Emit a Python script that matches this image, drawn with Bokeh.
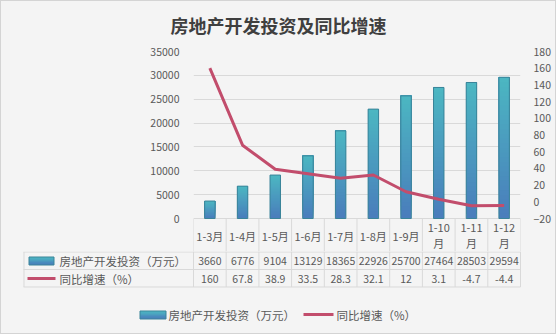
from bokeh.plotting import figure
from bokeh.models import Range1d, LinearAxis, FixedTicker
from bokeh.layouts import column
from bokeh.core.properties import value
from bokeh.embed import file_html
from bokeh.resources import INLINE

# ---------------- data ----------------
categories = ["1-3月", "1-4月", "1-5月", "1-6月", "1-7月", "1-8月", "1-9月", "1-10月", "1-11月", "1-12月"]
investment = [3660, 6776, 9104, 13129, 18365, 22926, 25700, 27464, 28503, 29594]
growth = [160, 67.8, 38.9, 33.5, 28.3, 32.1, 12, 3.1, -4.7, -4.4]
series_names = ["房地产开发投资（万元）", "同比增速（%）"]
title_text = "房地产开发投资及同比增速"
left_ticks = [0, 5000, 10000, 15000, 20000, 25000, 30000, 35000]
right_ticks = [-20, 0, 20, 40, 60, 80, 100, 120, 140, 160, 180]

# ---------------- style / layout ----------------
BG = "#f4f4f4"
GRID = "#d9d9d9"
TXT = "#595959"
LINE_C = "#c24d6c"
BAR_TOP = (76, 182, 194)
BAR_BOT = (74, 126, 188)
BAR_EDGE = "#3a8499"
FONT = "Noto Sans CJK SC"

W = 554                       # inner width (1px page border on each side)
TITLE_H = 39                  # page y 1..40
FR_L, FR_W, FR_T = 192, 327, 11
AXIS_H = 167                  # plotting height of the value axes (page y 51..218)
PAD = 33                      # frame continues below zero over the table header row
MAIN_H = FR_T + AXIS_H + PAD  # page y 40..251
TABLE_H = 82                  # page y 251..333
FR_R = W - FR_L - FR_W
n = len(categories)
unit = FR_W / n
centers = [i + 0.5 for i in range(n)]

l_lo, l_hi = left_ticks[0], left_ticks[-1]
r_lo, r_hi = right_ticks[0], right_ticks[-1]
l_start = l_lo - PAD * (l_hi - l_lo) / AXIS_H
r_start = r_lo - PAD * (r_hi - r_lo) / AXIS_H


def base(fig):
    fig.background_fill_color = BG
    fig.border_fill_color = BG
    fig.outline_line_color = None
    fig.xgrid.visible = False
    fig.ygrid.visible = False
    return fig


txt = dict(text_font=value(FONT), text_color=TXT, text_baseline="middle")

# ---------------- title ----------------
pt = base(figure(width=W, height=TITLE_H, output_backend="svg", toolbar_location=None,
                 x_range=Range1d(1, 555), y_range=Range1d(40, 1),
                 x_axis_location=None, y_axis_location=None,
                 min_border=0, frame_align=False))
pt.text(x=[278], y=[24], text=[title_text], text_font=value(FONT), text_font_size="18px",
        text_font_style="bold", text_color="#3f3f3f", text_align="center",
        text_baseline="middle")

# ---------------- main chart ----------------
p = figure(width=W, height=MAIN_H, output_backend="svg", toolbar_location=None,
           x_range=Range1d(0, n), y_range=Range1d(l_start, l_hi),
           x_axis_location=None, y_axis_location="left",
           min_border_left=FR_L, min_border_right=FR_R, min_border_top=FR_T,
           min_border_bottom=0, frame_align=False)
base(p)
p.extra_y_ranges = {"pct": Range1d(r_start, r_hi), "py": Range1d(251, 51)}

p.ygrid.visible = True
p.ygrid.ticker = FixedTicker(ticks=left_ticks)
p.ygrid.grid_line_color = GRID

ax = p.yaxis[0]
ax.ticker = FixedTicker(ticks=left_ticks)
rax = LinearAxis(y_range_name="pct", ticker=FixedTicker(ticks=right_ticks))
p.add_layout(rax, "right")
for a in (ax, rax):
    a.axis_line_color = None
    a.major_tick_line_color = None
    a.minor_tick_line_color = None
    a.major_label_text_font = FONT
    a.major_label_text_font_size = "10.5px"
    a.major_label_text_color = TXT
ax.major_label_standoff = 8
rax.major_label_standoff = 7

# table header row (category labels) below the zero line
p.segment(x0=list(range(n + 1)), x1=list(range(n + 1)), y0=l_lo, y1=l_start,
          line_color=GRID, line_width=1)
single_x = [x for x, c in zip(centers, categories) if len(c) <= 4]
single = [c for c in categories if len(c) <= 4]
multi_x = [x for x, c in zip(centers, categories) if len(c) > 4]
multi = [c for c in categories if len(c) > 4]
p.text(x=single_x, y=235, text=single, text_font_size="11px", text_align="center",
       y_range_name="py", **txt)
p.text(x=multi_x, y=227.5, text=[c[:-1] for c in multi], text_font_size="11px",
       text_align="center", y_range_name="py", **txt)
p.text(x=multi_x, y=242.5, text=[c[-1] for c in multi], text_font_size="11px",
       text_align="center", y_range_name="py", **txt)

# bars with vertical gradient (overlapping slices, no seams)
N = 30
xs, bots, tops, cols = [], [], [], []
for c, v in zip(centers, investment):
    for k in range(N):
        t = k / (N - 1)
        rgb = tuple(int(BAR_BOT[j] + (BAR_TOP[j] - BAR_BOT[j]) * t) for j in range(3))
        xs.append(c)
        bots.append(v * k / N)
        tops.append(v)
        cols.append("#%02x%02x%02x" % rgb)
p.vbar(x=xs, bottom=bots, top=tops, width=0.32, fill_color=cols, line_color=None)
p.vbar(x=centers, bottom=0, top=investment, width=0.32, fill_color=None,
       line_color=BAR_EDGE, line_width=1)

p.line(x=centers, y=growth, y_range_name="pct", line_color=LINE_C, line_width=3,
       line_join="round")

# ---------------- data table rows + legend ----------------
tb = base(figure(width=W, height=TABLE_H, output_backend="svg", toolbar_location=None,
                 x_range=Range1d(-FR_L / unit, n + FR_R / unit), y_range=Range1d(333, 251),
                 x_axis_location=None, y_axis_location=None, min_border=0,
                 frame_align=False))
tb.extra_x_ranges = {"px": Range1d(1, 555)}

ROW1, ROW2, ROW3 = 251.5, 269, 286.5
tb.segment(x0=list(range(n + 1)), x1=list(range(n + 1)), y0=251, y1=ROW3,
           line_color=GRID, line_width=1)
tb.segment(x0=[23, 23, 23, 23.5], x1=[520, 520, 520, 23.5],
           y0=[ROW1, ROW2, ROW3, ROW1], y1=[ROW1, ROW2, ROW3, ROW3],
           x_range_name="px", line_color=GRID, line_width=1)

tb.text(x=centers, y=260.5, text=[str(v) for v in investment], text_font_size="10.5px",
        text_align="center", **txt)
tb.text(x=centers, y=278, text=[("%g" % v) for v in growth], text_font_size="10.5px",
        text_align="center", **txt)


def keybox(x0, x1, y0, y1):
    ks = 6
    for k in range(ks):
        t = 1 - k / (ks - 1)
        rgb = tuple(int(BAR_BOT[j] + (BAR_TOP[j] - BAR_BOT[j]) * t) for j in range(3))
        tb.quad(left=x0, right=x1, top=y0 + (y1 - y0) * k / ks, bottom=y1,
                fill_color="#%02x%02x%02x" % rgb, line_color=None, x_range_name="px")
    tb.quad(left=x0, right=x1, top=y0, bottom=y1, fill_color=None,
            line_color=BAR_EDGE, line_width=1, x_range_name="px")


keybox(28.5, 53.5, 256.5, 264.5)
tb.text(x=59, y=260.5, text=[series_names[0]], text_font_size="11.5px", text_align="left",
        x_range_name="px", **txt)
tb.segment(x0=27, x1=55, y0=278, y1=278, line_color=LINE_C, line_width=3, x_range_name="px")
tb.text(x=59, y=278, text=[series_names[1]], text_font_size="11.5px", text_align="left",
        x_range_name="px", **txt)

keybox(139.5, 165.5, 310.5, 318.5)
tb.text(x=168, y=314, text=[series_names[0]], text_font_size="11.5px", text_align="left",
        x_range_name="px", **txt)
tb.segment(x0=303, x1=333, y0=314, y1=314, line_color=LINE_C, line_width=3,
           x_range_name="px")
tb.text(x=336, y=314, text=[series_names[1]], text_font_size="11.5px", text_align="left",
        x_range_name="px", **txt)

layout = column(pt, p, tb, spacing=0,
                styles={"border": "1px solid #d4d4d4", "background-color": BG})
open("out.html", "w").write(file_html(layout, INLINE))
